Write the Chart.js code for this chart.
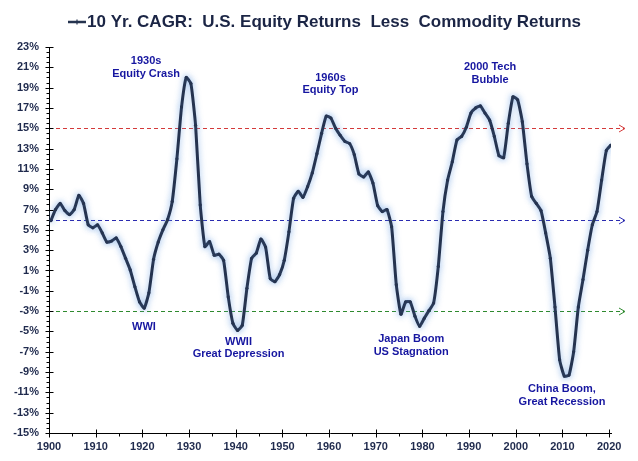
<!DOCTYPE html>
<html>
<head>
<meta charset="utf-8">
<script src="https://cdn.jsdelivr.net/npm/chart.js@4.4.1/dist/chart.umd.min.js"></script>
<style>
  html, body { margin: 0; padding: 0; background: #ffffff; }
  #c { display: block; }
</style>
</head>
<body>
<canvas id="c" width="638" height="461"></canvas>
<script>
// ---------------- DATA ----------------
const chartTitle = "10 Yr. CAGR:  U.S. Equity Returns  Less  Commodity Returns";

const years = [
  1900,1901,1902,1903,1904,1905,1906,1907,1908,1909,
  1910,1911,1912,1913,1914,1915,1916,1917,1918,1919,
  1920,1921,1922,1923,1924,1925,1926,1927,1928,1929,
  1930,1931,1932,1933,1934,1935,1936,1937,1938,1939,
  1940,1941,1942,1943,1944,1945,1946,1947,1948,1949,
  1950,1951,1952,1953,1954,1955,1956,1957,1958,1959,
  1960,1961,1962,1963,1964,1965,1966,1967,1968,1969,
  1970,1971,1972,1973,1974,1975,1976,1977,1978,1979,
  1980,1981,1982,1983,1984,1985,1986,1987,1988,1989,
  1990,1991,1992,1993,1994,1995,1996,1997,1998,1999,
  2000,2001,2002,2003,2004,2005,2006,2007,2008,2009,
  2010,2011,2012,2013,2014,2015,2016,2017,2018,2019,
  2020
];

// 10-year CAGR, US equities minus commodities (%)
const cagrSpread = [
  5.9, 7.0, 7.6, 6.9, 6.5, 7.0, 8.4, 7.6, 5.5, 5.2,
  5.5, 4.7, 3.8, 3.9, 4.2, 3.35, 2.2, 1.05, -0.6, -2.1,
  -2.7, -1.2, 2.1, 3.8, 5.0, 6.0, 7.8, 12.0, 17.1, 20.0,
  19.4, 15.3, 7.45, 3.35, 3.84, 2.5, 2.6, 2.0, -1.6, -4.2,
  -4.9, -4.4, -0.75, 2.2, 2.7, 4.1, 3.3, 0.2, -0.1, 0.6,
  2.0, 4.8, 8.1, 8.8, 8.2, 9.25, 10.6, 12.5, 14.5, 16.2,
  16.0, 15.0, 14.3, 13.7, 13.5, 12.4, 10.5, 10.2, 10.7, 9.6,
  7.4, 6.8, 7.0, 5.3, -0.4, -3.3, -2.1, -2.1, -3.5, -4.5,
  -3.7, -2.95, -2.2, 1.4, 6.8, 9.9, 11.7, 13.85, 14.2, 15.1,
  16.5, 17.0, 17.2, 16.5, 15.8, 14.2, 12.3, 12.1, 15.5, 18.1,
  17.8, 15.65, 11.5, 8.3, 7.6, 6.9, 4.7, 2.2, -2.6, -7.8,
  -9.4, -9.3, -7.0, -2.6, 0.1, 3.0, 5.5, 6.8, 9.9, 12.8,
  13.35
];

const xTickYears = [1900,1910,1920,1930,1940,1950,1960,1970,1980,1990,2000,2010,2020];
const xMinorYears = [1905,1915,1925,1935,1945,1955,1965,1975,1985,1995,2005,2015];
const yTickValues = [-15,-13,-11,-9,-7,-5,-3,-1,1,3,5,7,9,11,13,15,17,19,21,23];

// Reference levels (%)
const refLevels = [15, 6, -3];
const refColors = ['#d43a3a', '#2b2bb0', '#2f8a2f'];

// Event annotations: anchor (year, value) for first text line
const noteYears  = [1920.8, 1920.35, 1940.6, 1960.3, 1994.5, 1977.6, 2009.9];
const noteValues = [21.65, -4.6, -6.0, 20.0, 21.06, -5.74, -10.7];
const noteTexts  = [
  ["1930s", "Equity Crash"],
  ["WWI"],
  ["WWII", "Great Depression"],
  ["1960s", "Equity Top"],
  ["2000 Tech", "Bubble"],
  ["Japan Boom", "US Stagnation"],
  ["China Boom,", "Great Recession"]
];

// ---------------- STYLE ----------------
const FONT = "'Liberation Sans', Arial, Helvetica, sans-serif";
const lineColor = '#25334f';
const axisTextColor = '#1f2a4d';
const noteColor = '#1616a0';
const titleColor = '#1b2545';

const decor = {
  id: 'decor',
  beforeDatasetsDraw(chart) {
    const { ctx, chartArea, scales } = chart;
    const y = scales.y;
    refLevels.forEach((lv, i) => {
      const py = Math.round(y.getPixelForValue(lv)) + 0.5;
      ctx.save();
      ctx.strokeStyle = refColors[i];
      ctx.lineWidth = 1;
      ctx.setLineDash([4, 3]);
      ctx.beginPath();
      ctx.moveTo(chartArea.left, py);
      ctx.lineTo(chartArea.right + 13, py);
      ctx.stroke();
      ctx.setLineDash([]);
      ctx.beginPath();
      ctx.moveTo(chartArea.right + 8, py - 3.5);
      ctx.lineTo(chartArea.right + 14, py);
      ctx.lineTo(chartArea.right + 8, py + 3.5);
      ctx.stroke();
      ctx.restore();
    });
  },
  beforeDatasetDraw(chart) {
    const ctx = chart.ctx;
    ctx.save();
    ctx.shadowColor = 'rgba(110,160,225,0.75)';
    ctx.shadowBlur = 6;
  },
  afterDatasetDraw(chart) {
    chart.ctx.restore();
  },
  afterDraw(chart) {
    const { ctx, chartArea, scales } = chart;
    const x = scales.x, y = scales.y;
    ctx.save();
    // axis tick marks
    ctx.strokeStyle = '#000000';
    ctx.lineWidth = 1;
    const ax = Math.round(chartArea.left) + 0.5;
    const ay = Math.round(chartArea.bottom) + 0.5;
    ctx.beginPath();
    for (let v = -15; v <= 23.001; v += 0.5) {
      const py = Math.round(y.getPixelForValue(v)) + 0.5;
      const major = yTickValues.includes(Math.round(v * 10) / 10);
      if (major) { ctx.moveTo(ax - 4, py); ctx.lineTo(ax + 4, py); }
      else { ctx.moveTo(ax - 3, py); ctx.lineTo(ax, py); }
    }
    xTickYears.forEach(v => {
      const px = Math.round(x.getPixelForValue(v)) + 0.5;
      ctx.moveTo(px, ay - 4); ctx.lineTo(px, ay + 4);
    });
    xMinorYears.forEach(v => {
      const px = Math.round(x.getPixelForValue(v)) + 0.5;
      ctx.moveTo(px, ay); ctx.lineTo(px, ay + 3);
    });
    ctx.stroke();

    // annotations
    ctx.fillStyle = noteColor;
    ctx.font = "bold 11px " + FONT;
    ctx.textAlign = 'center';
    ctx.textBaseline = 'middle';
    noteTexts.forEach((lines, i) => {
      const px = x.getPixelForValue(noteYears[i]);
      const py = y.getPixelForValue(noteValues[i]);
      lines.forEach((t, j) => ctx.fillText(t, px, py + j * 12.8));
    });

    // title with legend symbol
    ctx.font = "bold 17px " + FONT;
    ctx.textAlign = 'left';
    ctx.fillStyle = titleColor;
    const ty = 22;
    ctx.fillText(chartTitle, 87, ty);
    ctx.strokeStyle = lineColor;
    ctx.lineWidth = 2.5;
    ctx.beginPath();
    ctx.moveTo(68, ty); ctx.lineTo(86, ty);
    ctx.stroke();
    ctx.lineWidth = 1.2;
    ctx.beginPath();
    ctx.moveTo(77, ty - 2.5); ctx.lineTo(77, ty + 2.5);
    ctx.stroke();
    ctx.restore();
  }
};

new Chart(document.getElementById('c'), {
  type: 'line',
  data: {
    datasets: [{
      label: chartTitle,
      data: years.map((yr, i) => ({ x: yr + 0.4, y: cagrSpread[i] })),
      borderColor: lineColor,
      backgroundColor: lineColor,
      borderWidth: 3,
      pointRadius: 1.6,
      pointBorderWidth: 0,
      pointBackgroundColor: lineColor,
      tension: 0.15,
      fill: false
    }]
  },
  options: {
    responsive: false,
    devicePixelRatio: 1,
    animation: false,
    layout: { padding: { top: 47, right: 27, bottom: 0, left: 0 } },
    plugins: {
      legend: { display: false },
      title: { display: false },
      tooltip: { enabled: false }
    },
    scales: {
      x: {
        type: 'linear',
        min: 1900,
        max: 2020.4,
        afterBuildTicks: s => { s.ticks = xTickYears.map(v => ({ value: v })); },
        afterFit: s => { s.height = 28; },
        grid: { display: false, drawTicks: false },
        border: { display: true, color: '#000000', width: 1 },
        ticks: {
          autoSkip: false,
          maxRotation: 0,
          padding: 7,
          color: axisTextColor,
          font: { family: FONT, size: 11, weight: 'bold' },
          callback: v => String(v)
        }
      },
      y: {
        type: 'linear',
        min: -15,
        max: 23,
        afterBuildTicks: s => { s.ticks = yTickValues.map(v => ({ value: v })); },
        afterFit: s => { s.width = 49; },
        grid: { display: false, drawTicks: false },
        border: { display: true, color: '#000000', width: 1 },
        ticks: {
          autoSkip: false,
          padding: 10,
          color: axisTextColor,
          font: { family: FONT, size: 11, weight: 'bold' },
          callback: v => v + '%'
        }
      }
    }
  },
  plugins: [decor]
});
</script>
</body>
</html>
